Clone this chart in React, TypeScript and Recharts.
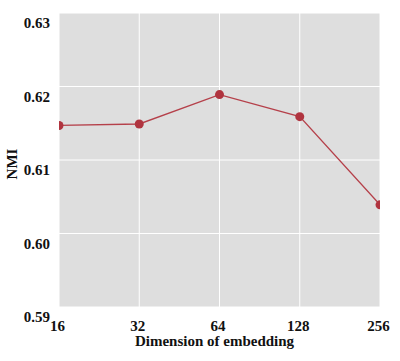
import React from 'react';
import { LineChart, Line, XAxis, YAxis, CartesianGrid } from 'recharts';

const dimensions = ['16', '32', '64', '128', '256'];
const nmiValues = [0.6147, 0.6149, 0.6189, 0.6159, 0.6039];
const yTicks = [0.59, 0.6, 0.61, 0.62, 0.63];

const data = dimensions.map((d, i) => ({ dim: d, nmi: nmiValues[i] }));

const textStyle: React.CSSProperties = {
  fontFamily: "'Liberation Serif', 'Times New Roman', Times, 'DejaVu Serif', serif",
  fontWeight: 700,
  fontSize: 15,
};

const XTick = (props: any) => {
  const { x, y, payload } = props;
  return (
    <text x={x - 1.5} y={y + 24} textAnchor="middle" style={textStyle} fill="#111">
      {payload.value}
    </text>
  );
};

const YTick = (props: any) => {
  const { x, y, payload } = props;
  return (
    <text x={x} y={y + 15} textAnchor="end" style={textStyle} fill="#111">
      {Number(payload.value).toFixed(2)}
    </text>
  );
};

export default function App() {
  return (
    <div style={{ position: 'absolute', left: 0, top: 0, width: 400, height: 361, background: '#fff' }}>
      <LineChart width={400} height={361} data={data} margin={{ top: 13, right: 20, left: 0, bottom: 0 }}>
        <CartesianGrid fill="#DEDEDE" stroke="#FFFFFF" strokeWidth={1} />
        <XAxis
          dataKey="dim"
          axisLine={false}
          tickLine={false}
          tickSize={0}
          tickMargin={0}
          height={54}
          tick={<XTick />}
          interval={0}
          allowDataOverflow
        />
        <YAxis
          domain={[0.59, 0.63]}
          ticks={yTicks}
          axisLine={false}
          tickLine={false}
          tickSize={0}
          tickMargin={9}
          width={59}
          tick={<YTick />}
          interval={0}
          allowDataOverflow
        />
        <Line
          dataKey="nmi"
          stroke="#B5404A"
          strokeWidth={1.3}
          dot={{ r: 4.5, fill: '#B0343F', stroke: '#B0343F', strokeWidth: 0, clipDot: true }}
          isAnimationActive={false}
        />
        <text x={214.5} y={346} textAnchor="middle" style={textStyle} fill="#111">
          Dimension of embedding
        </text>
        <text
          x={17}
          y={164}
          textAnchor="middle"
          style={textStyle}
          fill="#111"
          transform="rotate(-90 17 164)"
        >
          NMI
        </text>
      </LineChart>
    </div>
  );
}
